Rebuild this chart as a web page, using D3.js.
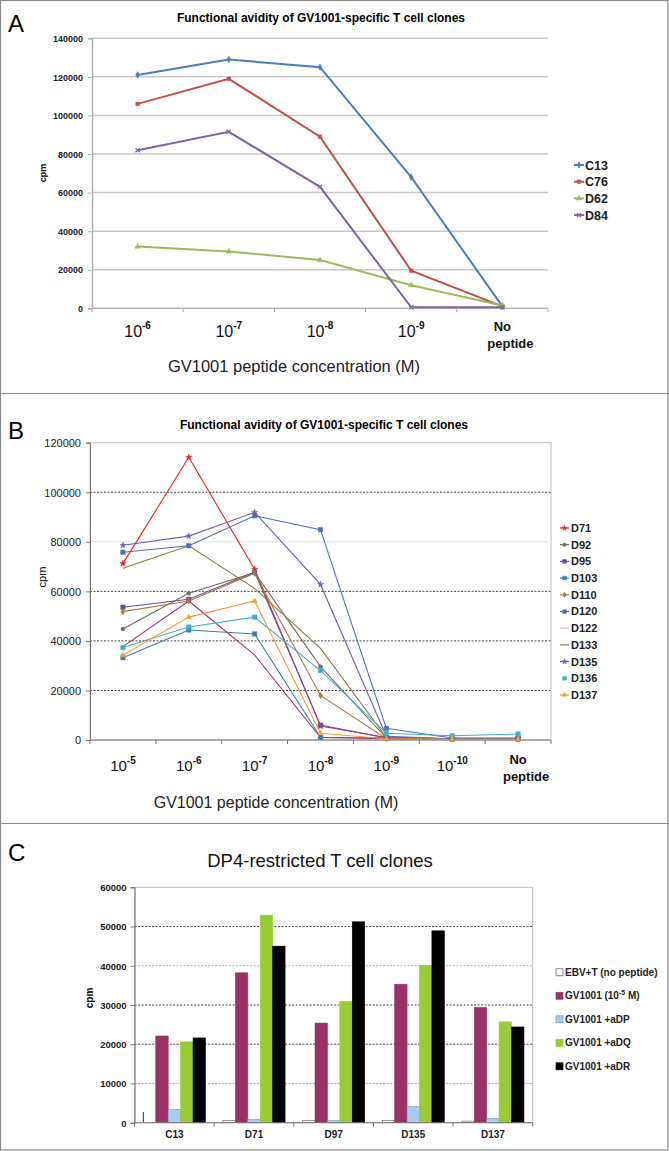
<!DOCTYPE html>
<html><head><meta charset="utf-8">
<script src="https://cdn.jsdelivr.net/npm/d3@7"></script>
<style>
body{margin:0;background:#fff;}
svg text{font-family:"Liberation Sans",Arial,sans-serif;}
</style></head>
<body><svg id="fig" width="669" height="1151"></svg>
<script>
// ---------- Panel A data ----------
const catsA = ["-6","-7","-8","-9","No peptide"];
const seriesA = ["C13","C76","D62","D84"];
const C13 = [121000,129000,125000,68000,1000];
const C76 = [106000,119000,89000,19500,1000];
const D62 = [32000,29500,25000,12000,1500];
const D84 = [82000,91500,63000,500,500];
const yTicksA = [0,20000,40000,60000,80000,100000,120000,140000];

// ---------- Panel B data ----------
const catsB = ["-5","-6","-7","-8","-9","-10","No peptide"];
const seriesB = ["D71","D92","D95","D103","D110","D120","D122","D133","D135","D136","D137"];
const D71  = [71200,114100,68900,5600,1000,500,500];
const D92  = [44800,59200,67500,29600,800,500,500];
const D95  = [53600,56800,67700,6000,800,500,500];
const D103 = [33200,44400,42800,1100,1000,500,500];
const D110 = [51800,56100,67300,18000,500,500,500];
const D120 = [75800,78400,90500,84900,4700,800,800];
const D122 = [37700,56100,34300,1000,500,300,300];
const D133 = [69300,78400,61200,37000,1000,500,500];
const D135 = [78600,82300,91900,62800,1500,500,500];
const D136 = [37300,45600,49600,28000,2700,1700,2400];
const D137 = [34200,49600,56100,2700,500,300,300];
const yTicksB = [0,20000,40000,60000,80000,100000,120000];

// ---------- Panel C data ----------
const groupsC = ["C13","D71","D97","D135","D137"];
const seriesC = ["EBV+T (no peptide)","GV1001 (10^-5 M)","GV1001 +aDP","GV1001 +aDQ","GV1001 +aDR"];
const ebvT  = [0,600,500,600,400];
const gv1001 = [22100,38200,25400,35300,29400];
const aDP   = [3400,850,600,4100,1100];
const aDQ   = [20600,52900,30900,40100,25700];
const aDR   = [21600,45000,51200,48900,24400];
const ebvSpike = [2700,0,0,0,0];
const yTicksC = [0,10000,20000,30000,40000,50000,60000];

const svg = d3.select("#fig");

// figure frame
svg.append("rect").attr("x",0.5).attr("y",0.5).attr("width",667.5).attr("height",1149.5)
  .attr("fill","none").attr("stroke","#8a8a8a").attr("stroke-width",1.2);
[393.5, 823.5].forEach(yy=>svg.append("line").attr("x1",0).attr("x2",669).attr("y1",yy).attr("y2",yy)
  .attr("stroke","#8a8a8a").attr("stroke-width",1.2));

function expLabel(g, x, y, exp, size, supSize){
  const t = g.append("text").attr("x",x).attr("y",y).attr("text-anchor","middle")
    .attr("font-size",size).attr("fill","#111");
  t.append("tspan").text("10");
  t.append("tspan").attr("dy",-size*0.5).attr("font-size",supSize).attr("font-weight","bold").text(exp);
}
function noPep(g, x, y, size){
  const t = g.append("text").attr("x",x).attr("y",y).attr("text-anchor","middle")
    .attr("font-size",size).attr("font-weight","bold").attr("fill","#111");
  t.append("tspan").attr("x",x-8).text("No");
  t.append("tspan").attr("x",x).attr("dy",size*1.3).text("peptide");
}
function marker(g, shape, color, cx, cy, size){
  if(shape==="none") return;
  const types = {diamond:d3.symbolDiamond, square:d3.symbolSquare, triangle:d3.symbolTriangle,
    cross:d3.symbolCross, x:d3.symbolX, circle:d3.symbolCircle, star:d3.symbolStar};
  const s = g.append("path").attr("d", d3.symbol().type(types[shape]).size(size)())
    .attr("transform",`translate(${cx},${cy})`);
  if(shape==="x") s.attr("fill","none").attr("stroke",color).attr("stroke-width",1.2);
  else s.attr("fill",color).attr("stroke",color).attr("stroke-width",0.5);
}

// ================= Panel A =================
(function(){
  const g = svg.append("g");
  const L=92, R=548, T=38.3, B=308.3;
  const x = d3.scaleBand().domain(catsA).range([L,R]);
  const y = d3.scaleLinear().domain([0,140000]).range([B,T]);
  g.append("text").attr("x",8).attr("y",32).attr("font-size",24).text("A");
  g.append("text").attr("x",321).attr("y",22).attr("text-anchor","middle").attr("font-size",12)
    .attr("font-weight","bold").text("Functional avidity of GV1001-specific T cell clones");
  g.selectAll(".gA").data(yTicksA.filter(d=>d>0)).join("line")
    .attr("x1",L).attr("x2",R).attr("y1",d=>y(d)).attr("y2",d=>y(d))
    .attr("stroke","#c9c9c9").attr("stroke-width",1.5);
  const ya = g.append("g").attr("transform",`translate(${L},0)`)
    .call(d3.axisLeft(y).tickValues(yTicksA).tickSize(4).tickFormat(d3.format("d")));
  ya.select(".domain").attr("stroke","#b5b5b5").attr("stroke-width",1.5);
  ya.selectAll(".tick line").attr("stroke","#b5b5b5");
  ya.selectAll(".tick text").attr("font-size",9).attr("font-weight","bold").attr("fill","#222")
    .attr("font-family","Liberation Sans, Arial, sans-serif").attr("dy","0.35em").attr("x",-9);
  g.append("line").attr("x1",L).attr("x2",R).attr("y1",B).attr("y2",B).attr("stroke","#b5b5b5").attr("stroke-width",1.5);
  const bounds = catsA.map(c=>x(c)).concat([R]);
  g.selectAll(".xtA").data(bounds).join("line").attr("x1",d=>d).attr("x2",d=>d)
    .attr("y1",B).attr("y2",B+4).attr("stroke","#b5b5b5").attr("stroke-width",1.2);
  g.append("text").attr("transform",`translate(46,173) rotate(-90)`).attr("text-anchor","middle")
    .attr("font-size",9).attr("font-weight","bold").text("cpm");
  catsA.forEach(c=>{
    const cx = x(c)+x.bandwidth()/2;
    if(c==="No peptide") noPep(g, cx+8, 331, 13);
    else expLabel(g, cx, 337, c, 16, 10);
  });
  g.append("text").attr("x",294).attr("y",372).attr("text-anchor","middle").attr("font-size",16.5)
    .attr("fill","#222").text("GV1001 peptide concentration (M)");
  const vals = {C13,C76,D62,D84};
  const cols = {C13:"#4a7ebb",C76:"#c0504d",D62:"#9bbb59",D84:"#8064a2"};
  const shapes = {C13:"diamond",C76:"square",D62:"triangle",D84:"x"};
  const line = d3.line().x((d,i)=>x(catsA[i])+x.bandwidth()/2).y(d=>y(d));
  seriesA.forEach(s=>{
    g.append("path").attr("d",line(vals[s])).attr("fill","none").attr("stroke",cols[s]).attr("stroke-width",2);
    vals[s].forEach((v,i)=>marker(g,shapes[s],cols[s],x(catsA[i])+x.bandwidth()/2,y(v),13));
  });
  seriesA.forEach((s,i)=>{
    const ly = 165 + i*16.7;
    g.append("line").attr("x1",574).attr("x2",584).attr("y1",ly).attr("y2",ly).attr("stroke",cols[s]).attr("stroke-width",2);
    marker(g,shapes[s],cols[s],579,ly,12);
    g.append("text").attr("x",585).attr("y",ly).attr("dy","0.36em").attr("font-size",12.5)
      .attr("font-weight","bold").attr("fill","#222").text(s);
  });
})();

// ================= Panel B =================
(function(){
  const g = svg.append("g");
  const L=90, R=551, T=442.7, B=740;
  const x = d3.scaleBand().domain(catsB).range([L,R]);
  const y = d3.scaleLinear().domain([0,120000]).range([B,T]);
  g.append("text").attr("x",8).attr("y",439).attr("font-size",24).text("B");
  g.append("text").attr("x",324).attr("y",429).attr("text-anchor","middle").attr("font-size",12)
    .attr("font-weight","bold").text("Functional avidity of GV1001-specific T cell clones");
  g.append("rect").attr("x",L).attr("y",T).attr("width",R-L).attr("height",B-T)
    .attr("fill","none").attr("stroke","#bdbdbd").attr("stroke-width",1);
  yTicksB.filter(d=>d>0 && d<120000).forEach(d=>{
    const light = d===80000;
    g.append("line").attr("x1",L).attr("x2",R).attr("y1",y(d)).attr("y2",y(d))
      .attr("stroke",light?"#e0e0e0":"#444").attr("stroke-width",1)
      .attr("stroke-dasharray",light?null:"2,1.5");
  });
  const ya = g.append("g").attr("transform",`translate(${L},0)`)
    .call(d3.axisLeft(y).tickValues(yTicksB).tickSize(4).tickFormat(d3.format("d")));
  ya.select(".domain").attr("stroke","#777");
  ya.selectAll(".tick line").attr("stroke","#777");
  ya.selectAll(".tick text").attr("font-size",11).attr("fill","#222")
    .attr("font-family","Liberation Sans, Arial, sans-serif").attr("dy","0.35em").attr("x",-9);
  g.append("line").attr("x1",L).attr("x2",R).attr("y1",B).attr("y2",B).attr("stroke","#777");
  const bounds = catsB.map(c=>x(c)).concat([R]);
  g.selectAll(".xtB").data(bounds).join("line").attr("x1",d=>d).attr("x2",d=>d)
    .attr("y1",B).attr("y2",B+4).attr("stroke","#777");
  g.append("text").attr("transform",`translate(46,577) rotate(-90)`).attr("text-anchor","middle")
    .attr("font-size",11).text("cpm");
  catsB.forEach(c=>{
    const cx = x(c)+x.bandwidth()/2;
    if(c==="No peptide") noPep(g, cx+8, 764, 13);
    else expLabel(g, cx, 771, c, 15, 10);
  });
  g.append("text").attr("x",276).attr("y",808).attr("text-anchor","middle").attr("font-size",16)
    .attr("fill","#222").text("GV1001 peptide concentration (M)");
  const vals = {D71,D92,D95,D103,D110,D120,D122,D133,D135,D136,D137};
  const cols = {D71:"#e8231f",D92:"#746f5a",D95:"#6a4f96",D103:"#3f7da0",D110:"#a9773f",
    D120:"#4f6fb5",D122:"#9b3570",D133:"#8a7a3e",D135:"#6c62ad",D136:"#40b0c8",D137:"#f4a03a"};
  const legCols = Object.assign({}, cols, {D122:"#d8bcd8"});
  const shapes = {D71:"star",D92:"circle",D95:"square",D103:"square",D110:"diamond",D120:"square",
    D122:"none",D133:"none",D135:"star",D136:"square",D137:"triangle"};
  const line = d3.line().x((d,i)=>x(catsB[i])+x.bandwidth()/2).y(d=>y(d));
  seriesB.forEach(s=>{
    g.append("path").attr("d",line(vals[s])).attr("fill","none").attr("stroke",cols[s]).attr("stroke-width",1.1);
  });
  seriesB.forEach(s=>{
    vals[s].forEach((v,i)=>marker(g,shapes[s],cols[s],x(catsB[i])+x.bandwidth()/2,y(v),
      shapes[s]==="square"?20:12));
  });
  seriesB.forEach((s,i)=>{
    const ly = 528 + i*16.7;
    if(s!=="D136") g.append("line").attr("x1",560).attr("x2",569).attr("y1",ly).attr("y2",ly)
      .attr("stroke",legCols[s]).attr("stroke-width",1.2);
    marker(g,shapes[s],legCols[s],564.5,ly,shapes[s]==="square"?14:9);
    g.append("text").attr("x",571).attr("y",ly).attr("dy","0.36em").attr("font-size",11)
      .attr("font-weight","bold").attr("fill","#222").text(s);
  });
})();

// ================= Panel C =================
(function(){
  const g = svg.append("g");
  const L=134.6, R=532.7, T=887.3, B=1122.7;
  const x0 = d3.scaleBand().domain(groupsC).range([L,R]).paddingInner(0.22).paddingOuter(0.11);
  const x1 = d3.scaleBand().domain(seriesC).range([0,x0.bandwidth()]);
  const y = d3.scaleLinear().domain([0,60000]).range([B,T]);
  g.append("text").attr("x",8).attr("y",861).attr("font-size",24).text("C");
  g.append("text").attr("x",320).attr("y",867).attr("text-anchor","middle").attr("font-size",18.5)
    .attr("fill","#111").text("DP4-restricted T cell clones");
  g.append("rect").attr("x",L).attr("y",T).attr("width",R-L).attr("height",B-T)
    .attr("fill","none").attr("stroke","#bdbdbd").attr("stroke-width",1);
  yTicksC.filter(d=>d>0 && d<60000).forEach(d=>{
    const light = d===10000 || d===40000;
    g.append("line").attr("x1",L).attr("x2",R).attr("y1",y(d)).attr("y2",y(d))
      .attr("stroke",light?"#aaa":"#444").attr("stroke-width",1).attr("stroke-dasharray","2,1.5");
  });
  const ya = g.append("g").attr("transform",`translate(${L},0)`)
    .call(d3.axisLeft(y).tickValues(yTicksC).tickSize(4).tickFormat(d3.format("d")));
  ya.select(".domain").attr("stroke","#777");
  ya.selectAll(".tick line").attr("stroke","#777");
  ya.selectAll(".tick text").attr("font-size",9.5).attr("font-weight","bold").attr("fill","#222")
    .attr("font-family","Liberation Sans, Arial, sans-serif").attr("dy","0.35em").attr("x",-8);
  const bounds = groupsC.map(c=>x0(c)-x0.step()*x0.paddingInner()/2).concat([R]);
  g.selectAll(".xtC").data(bounds).join("line").attr("x1",d=>d).attr("x2",d=>d)
    .attr("y1",B).attr("y2",B+4).attr("stroke","#777");
  g.append("text").attr("transform",`translate(93,998) rotate(-90)`).attr("text-anchor","middle")
    .attr("font-size",10).attr("font-weight","bold").text("cpm");
  groupsC.forEach(c=>g.append("text").attr("x",x0(c)+x0.bandwidth()/2).attr("y",1138)
    .attr("text-anchor","middle").attr("font-size",10).attr("font-weight","bold").attr("fill","#222").text(c));
  const vals = [ebvT,gv1001,aDP,aDQ,aDR];
  const fills = ["#ffffff","#993366","#a7cdee","#99cc33","#000000"];
  const strokes = ["#555","#993366","#6f9cc4","#99cc33","#000"];
  seriesC.forEach((s,si)=>{
    groupsC.forEach((c,gi)=>{
      const v = vals[si][gi];
      g.append("rect").attr("x",x0(c)+x1(s)).attr("y",y(v)).attr("width",x1.bandwidth())
        .attr("height",B-y(v)).attr("fill",fills[si]).attr("stroke",strokes[si]).attr("stroke-width",0.6);
    });
  });
  groupsC.forEach((c,gi)=>{
    if(ebvSpike[gi]>0) g.append("line").attr("x1",x0(c)+x1(seriesC[0])).attr("x2",x0(c)+x1(seriesC[0]))
      .attr("y1",y(ebvSpike[gi])).attr("y2",B).attr("stroke","#333").attr("stroke-width",1);
  });
  g.append("line").attr("x1",L).attr("x2",R).attr("y1",B).attr("y2",B).attr("stroke","#777");
  seriesC.forEach((s,i)=>{
    const ly = 972.3 + i*23.5;
    g.append("rect").attr("x",556).attr("y",ly-3.5).attr("width",7).attr("height",7)
      .attr("fill",fills[i]).attr("stroke",strokes[i]).attr("stroke-width",0.7);
    const t = g.append("text").attr("x",565).attr("y",ly).attr("dy","0.36em").attr("font-size",10)
      .attr("font-weight","bold").attr("fill","#222");
    if(s.includes("^")){
      const m = s.match(/^(.*?)10\^(-?\d+)(.*)$/);
      t.append("tspan").text(m[1]+"10");
      t.append("tspan").attr("dy",-4).attr("font-size",7).text(m[2]);
      t.append("tspan").attr("dy",4).text(m[3]);
    } else t.text(s);
  });
})();
</script></body></html>
